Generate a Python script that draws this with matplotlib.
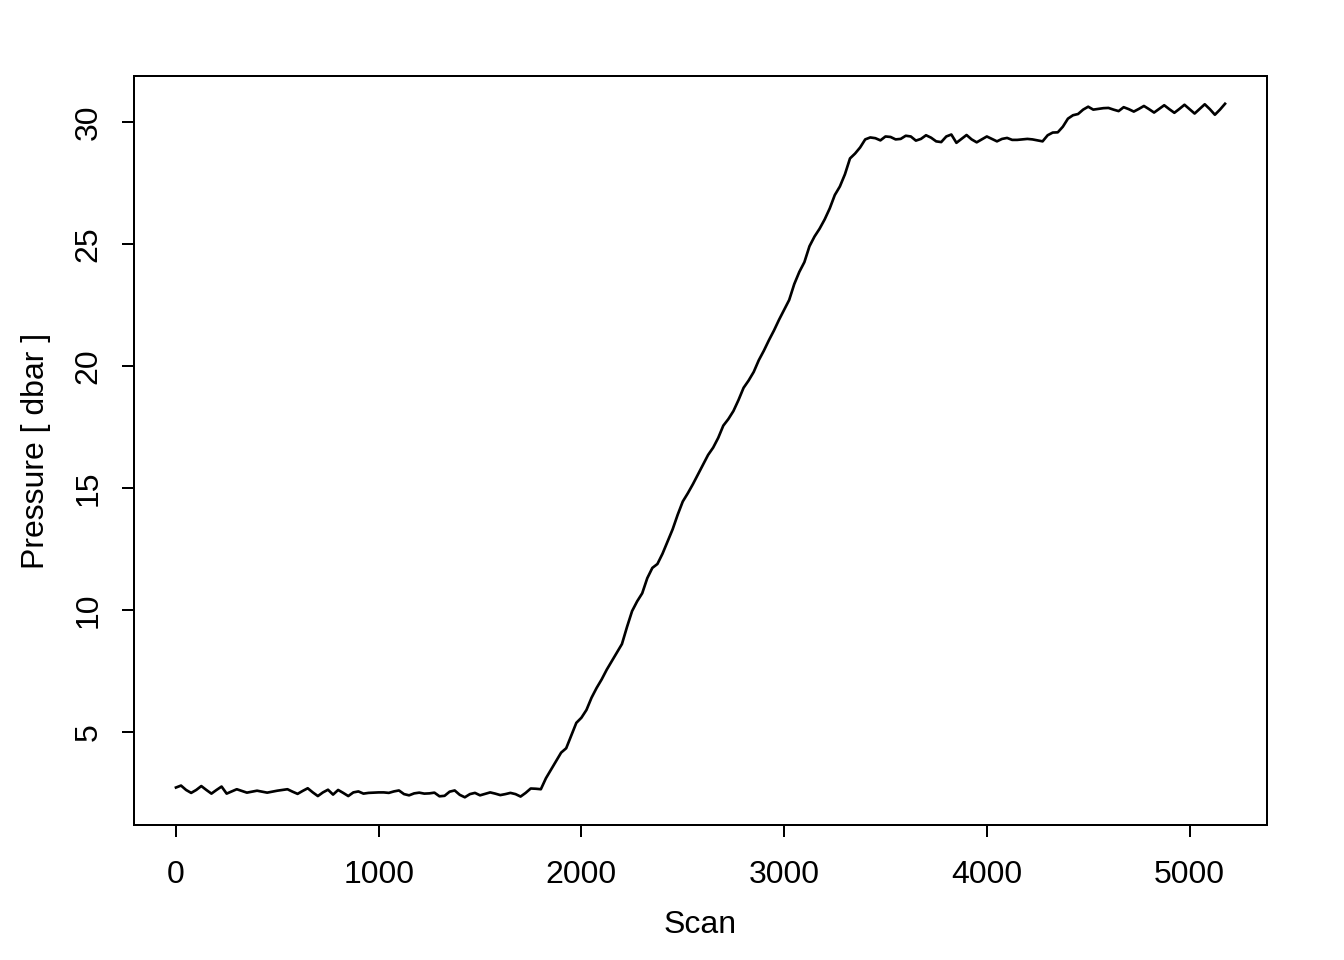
import numpy as np
import matplotlib
matplotlib.use("Agg")
from matplotlib import pyplot as plt

plt.rcParams["font.family"] = ["Liberation Sans", "DejaVu Sans"]

# pressure, one value every 25 scans starting at scan 0
pressure = [
    2.72, 2.80, 2.62, 2.50, 2.62, 2.78, 2.62, 2.47,
    2.62, 2.76, 2.47, 2.56, 2.65, 2.58, 2.51, 2.55,
    2.59, 2.55, 2.51, 2.55, 2.59, 2.62, 2.65, 2.55,
    2.46, 2.58, 2.69, 2.52, 2.37, 2.52, 2.63, 2.43,
    2.62, 2.50, 2.37, 2.52, 2.56, 2.47, 2.50, 2.51,
    2.52, 2.52, 2.50, 2.56, 2.60, 2.45, 2.40, 2.48,
    2.51, 2.47, 2.48, 2.51, 2.36, 2.38, 2.55, 2.60,
    2.42, 2.32, 2.45, 2.50, 2.40, 2.46, 2.52, 2.47,
    2.41, 2.45, 2.50, 2.45, 2.35, 2.50, 2.68, 2.67,
    2.65, 3.10, 3.45, 3.80, 4.15, 4.33, 4.85, 5.37,
    5.58, 5.90, 6.40, 6.80, 7.15, 7.55, 7.90, 8.25,
    8.60, 9.30, 9.95, 10.35, 10.68, 11.30, 11.72, 11.88,
    12.30, 12.80, 13.30, 13.90, 14.44, 14.78, 15.15, 15.55,
    15.95, 16.35, 16.65, 17.05, 17.55, 17.82, 18.15, 18.60,
    19.10, 19.40, 19.75, 20.23, 20.62, 21.05, 21.45, 21.89,
    22.30, 22.70, 23.35, 23.85, 24.25, 24.90, 25.30, 25.62,
    26.00, 26.45, 27.00, 27.35, 27.85, 28.50, 28.70, 28.95,
    29.28, 29.36, 29.33, 29.24, 29.40, 29.38, 29.28, 29.30,
    29.43, 29.40, 29.23, 29.30, 29.45, 29.35, 29.20, 29.17,
    29.40, 29.48, 29.14, 29.30, 29.46, 29.28, 29.16, 29.28,
    29.40, 29.30, 29.20, 29.30, 29.34, 29.26, 29.26, 29.28,
    29.30, 29.28, 29.24, 29.20, 29.45, 29.56, 29.57, 29.80,
    30.13, 30.27, 30.32, 30.50, 30.62, 30.50, 30.53, 30.56,
    30.57, 30.50, 30.44, 30.60, 30.52, 30.42, 30.53, 30.65,
    30.52, 30.38, 30.53, 30.68, 30.52, 30.37, 30.53, 30.70,
    30.52, 30.34, 30.53, 30.72, 30.52, 30.29, 30.50, 30.74,
]
scan_step = 25
x_ticks = [0, 1000, 2000, 3000, 4000, 5000]
y_ticks = [5, 10, 15, 20, 25, 30]


def main():
    scan = np.arange(len(pressure)) * scan_step
    p = np.array(pressure)

    fig = plt.figure(figsize=(7, 5), dpi=192)
    ax = fig.add_axes([0.0997, 0.1406, 0.843, 0.7802])
    ax.plot(scan, p, color="black", linewidth=1.0)

    # R style 4% padding on both axes
    dx = (scan.max() - scan.min()) * 0.04
    dy = (p.max() - p.min()) * 0.04
    ax.set_xlim(scan.min() - dx, scan.max() + dx)
    ax.set_ylim(p.min() - dy, p.max() + dy)

    ax.set_xticks(x_ticks)
    ax.set_yticks(y_ticks)
    ax.tick_params(length=4.5, width=0.75, labelsize=12)
    ax.tick_params(axis="x", pad=8.5)
    ax.tick_params(axis="y", pad=7, labelrotation=90)
    for lab in ax.get_yticklabels():
        lab.set_va("center")
    for sp in ax.spines.values():
        sp.set_linewidth(0.75)

    ax.set_xlabel("Scan", fontsize=12, labelpad=7.5)
    ax.set_ylabel("Pressure [ dbar ]", fontsize=12, labelpad=8.5)

    fig.savefig("out.png", dpi=192)


if __name__ == "__main__":
    main()
